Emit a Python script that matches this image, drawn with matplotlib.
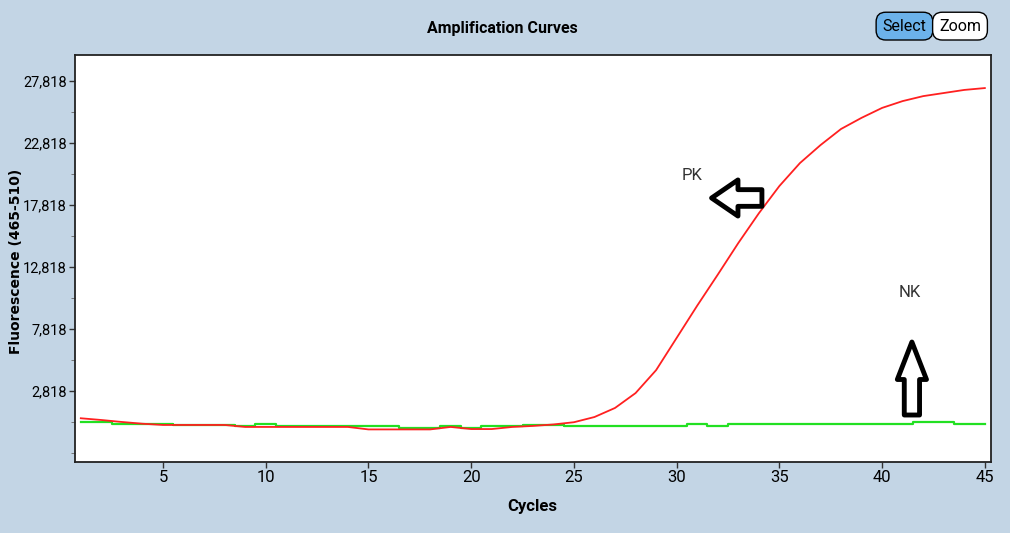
import numpy as np
import matplotlib.pyplot as plt

# cycle numbers and fluorescence readings (465-510)
cycles = np.arange(1, 46)
pk_values = [620, 480, 320, 180, 80, 80, 80, 80, -80, -80,
             -80, -80, -80, -80, -280, -280, -280, -280, -80, -250,
             -250, -80, 0, 120, 300, 720, 1450, 2650, 4500, 7100,
             9700, 12200, 14750, 17150, 19350, 21200, 22650, 23950, 24850, 25650,
             26200, 26600, 26850, 27100, 27250]
nk_values = [300, 280, 160, 160, 160, 80, 80, 80, 0, 180,
             0, 0, 0, 0, 0, 0, -170, -170, 0, -170,
             0, 0, 80, 80, 0, 0, 0, 0, 0, 0,
             180, 0, 160, 160, 160, 160, 160, 160, 160, 160,
             160, 320, 320, 160, 160]
x_ticks = [5, 10, 15, 20, 25, 30, 35, 40, 45]
y_ticks = [2818, 7818, 12818, 17818, 22818, 27818]
y_tick_labels = ["2,818", "7,818", "12,818", "17,818", "22,818", "27,818"]

bg = "#c3d5e5"
narrow = ["Roboto", "DejaVu Sans"]

fig = plt.figure(figsize=(10.1, 5.33), dpi=100, facecolor=bg)
ax = fig.add_axes([0.0743, 0.1332, 0.9067, 0.7636])
ax.set_facecolor("white")

ax.plot(cycles, nk_values, color="#22e022", lw=1.6, drawstyle="steps-mid")
ax.plot(cycles, pk_values, color="#ff2020", lw=1.3)

ax.set_xlim(0.72, 45.29)
ax.set_ylim(-2908, 29916)
ax.set_xticks(x_ticks)
ax.set_xticklabels([str(t) for t in x_ticks], family=narrow, fontsize=12)
ax.set_yticks(y_ticks)
ax.set_yticklabels(y_tick_labels, family=narrow, fontsize=10.5)
ax.set_yticks(np.arange(-2182, 29000, 2500), minor=True)
ax.tick_params(axis="both", direction="out", length=4, width=1, colors="#333333",
               labelcolor="black", pad=2)
ax.tick_params(axis="y", which="minor", length=3, color="#666666")
for s in ax.spines.values():
    s.set_color("#222222")
    s.set_linewidth(1.3)

# arrows pointing at the two curves
ax.annotate("", xy=(31.7, 18384), xytext=(34.15, 18384),
            arrowprops=dict(arrowstyle="simple,head_width=1.3,tail_width=0.6,head_length=0.95",
                            mutation_scale=20, fc="white", ec="black", lw=3.5,
                            shrinkA=0, shrinkB=0))
ax.annotate("", xy=(41.45, 6770), xytext=(41.45, 882),
            arrowprops=dict(arrowstyle="simple,head_width=1.05,tail_width=0.55,head_length=1.35",
                            mutation_scale=20, fc="white", ec="black", lw=3.5,
                            shrinkA=0, shrinkB=0))
ax.text(30.74, 20158, "PK", family=narrow, fontsize=12, color="#333333",
        ha="center", va="center")
ax.text(41.35, 10802, "NK", family=narrow, fontsize=12, color="#333333",
        ha="center", va="center")

fig.text(0.497, 0.947, "Amplification Curves", family=narrow, fontsize=11.5,
         fontweight="bold", ha="center", va="center")
fig.text(0.527, 0.049, "Cycles", family=narrow, fontsize=12, fontweight="bold",
         ha="center", va="center")
fig.text(0.016, 0.51, "Fluorescence (465-510)", family="DejaVu Sans", fontsize=10,
         fontweight="bold", rotation=90, ha="center", va="center")

# toolbar buttons
fig.text(0.8955, 0.951, "Select", family=narrow, fontsize=11.5, ha="center", va="center",
         bbox=dict(boxstyle="round,pad=0.4,rounding_size=0.6", fc="#6cb2ea", ec="black", lw=1))
fig.text(0.9505, 0.951, "Zoom", family=narrow, fontsize=11.5, ha="center", va="center",
         bbox=dict(boxstyle="round,pad=0.4,rounding_size=0.6", fc="white", ec="black", lw=1))

fig.savefig("out.png", dpi=100, facecolor=bg)
